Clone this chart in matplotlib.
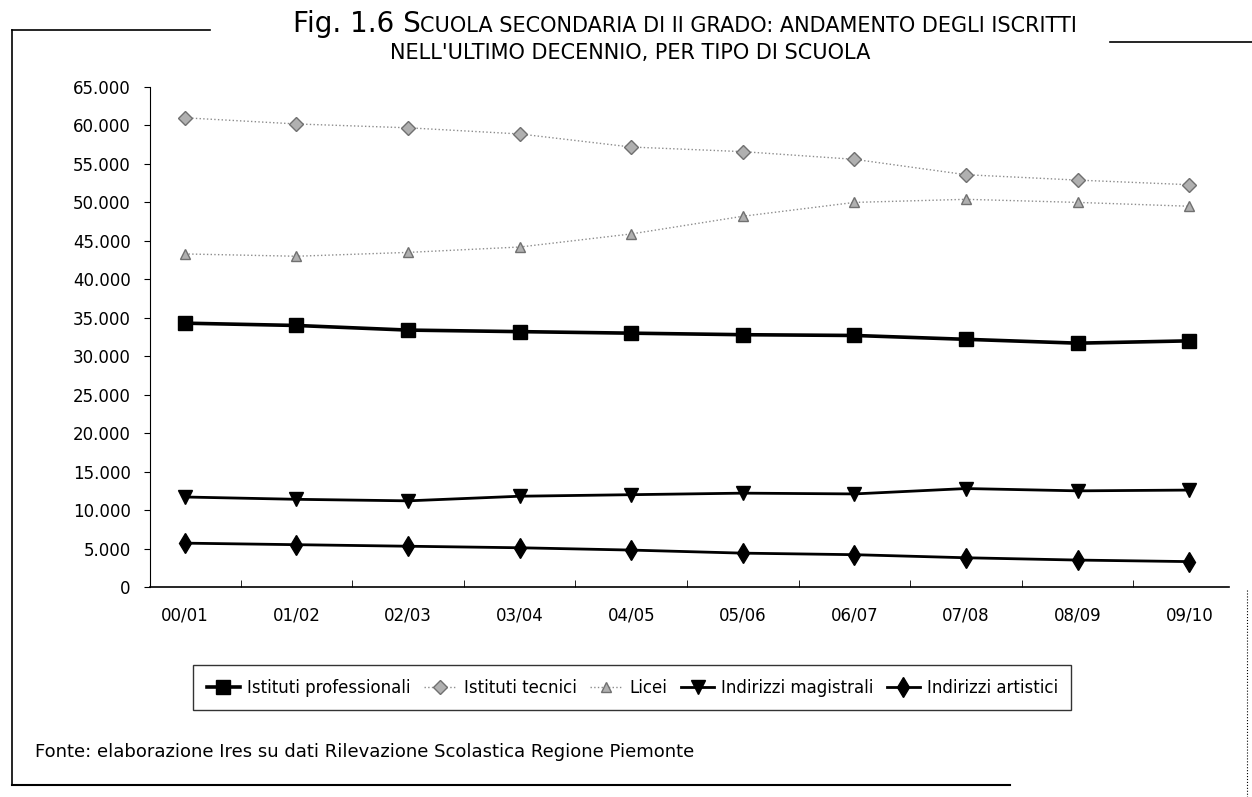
import numpy as np
import matplotlib
matplotlib.use("Agg")
import matplotlib.pyplot as plt
from matplotlib.lines import Line2D
from matplotlib.offsetbox import TextArea, HPacker, AnchoredOffsetbox
from matplotlib.ticker import FuncFormatter, MultipleLocator

plt.rcParams['font.family'] = ['Liberation Sans Narrow', 'DejaVu Sans Condensed', 'DejaVu Sans']

# data
anni = ["00/01", "01/02", "02/03", "03/04", "04/05", "05/06", "06/07", "07/08", "08/09", "09/10"]
professionali = [34300, 34000, 33400, 33200, 33000, 32800, 32700, 32200, 31700, 32000]
tecnici = [61000, 60200, 59700, 58900, 57200, 56600, 55600, 53600, 52900, 52300]
licei = [43300, 43000, 43500, 44200, 45900, 48200, 50000, 50400, 50000, 49500]
magistrali = [11700, 11400, 11200, 11800, 12000, 12200, 12100, 12800, 12500, 12600]
artistici = [5700, 5500, 5300, 5100, 4800, 4400, 4200, 3800, 3500, 3300]

fig = plt.figure(figsize=(12.52, 7.97), dpi=100)
ax = fig.add_axes([0.12, 0.2635, 0.862, 0.6273])

x = np.arange(len(anni))
ax.plot(x, professionali, color='black', lw=2.6, marker='s', ms=10,
        label='Istituti professionali')
ax.plot(x, tecnici, color='#8c8c8c', lw=1.0, ls=':', marker='D', ms=7,
        mfc='#b0b0b0', mec='#707070', label='Istituti tecnici')
ax.plot(x, licei, color='#8c8c8c', lw=1.0, ls=':', marker='^', ms=7,
        mfc='#b0b0b0', mec='#707070', label='Licei')
ax.plot(x, magistrali, color='black', lw=2.0, marker='v', ms=10,
        label='Indirizzi magistrali')
ax.plot(x, artistici, color='black', lw=2.0, marker='d', ms=10,
        label='Indirizzi artistici')

ax.set_xlim(-0.31, 9.36)
ax.set_ylim(0, 65000)
ax.yaxis.set_major_locator(MultipleLocator(5000))
ax.yaxis.set_major_formatter(FuncFormatter(lambda v, p: f"{int(v):,}".replace(",", ".")))
ax.set_xticks(x)
ax.set_xticklabels(anni)
ax.set_xticks(np.arange(0.5, 9.5, 1), minor=True)
ax.tick_params(axis='x', which='major', length=0, pad=14, labelsize=12)
ax.tick_params(axis='x', which='minor', length=5, direction='in')
ax.tick_params(axis='y', length=4, direction='out', labelsize=12, pad=10)
ax.spines['top'].set_visible(False)
ax.spines['right'].set_visible(False)
ax.spines['left'].set_linewidth(0.8)
ax.spines['bottom'].set_linewidth(1.2)

leg = fig.legend(loc='center', bbox_to_anchor=(0.505, 0.137), ncol=5, frameon=True,
                 fancybox=False, edgecolor='black', fontsize=12, handlelength=2.0,
                 handletextpad=0.4, columnspacing=0.8, borderpad=0.8)
leg.get_frame().set_linewidth(1.0)

# title in small caps, built from pieces
big, small = 20, 15
riga1 = HPacker(children=[TextArea("Fig. 1.6 S", textprops=dict(size=big)),
                          TextArea("CUOLA SECONDARIA DI II GRADO: ANDAMENTO DEGLI ISCRITTI",
                                   textprops=dict(size=small))],
                align='baseline', pad=0, sep=0)
riga2 = TextArea("NELL'ULTIMO DECENNIO, PER TIPO DI SCUOLA", textprops=dict(size=small))
fig.add_artist(AnchoredOffsetbox(loc='center', child=riga1, frameon=False,
                                 bbox_to_anchor=(0.547, 0.970), bbox_transform=fig.transFigure, pad=0))
fig.add_artist(AnchoredOffsetbox(loc='center', child=riga2, frameon=False,
                                 bbox_to_anchor=(0.503, 0.934), bbox_transform=fig.transFigure, pad=0))

fig.text(0.028, 0.056, "Fonte: elaborazione Ires su dati Rilevazione Scolastica Regione Piemonte",
         fontsize=13, va='center')

# cornice
W, H = 1252, 797
def seg(x0, y0, x1, y1, lw=1.2, ls='-'):
    fig.add_artist(Line2D([x0 / W, x1 / W], [1 - y0 / H, 1 - y1 / H], color='black',
                          lw=lw, ls=ls, transform=fig.transFigure))

seg(12, 30, 210, 30)
seg(12, 30, 12, 785)
seg(12, 785, 1010, 785, lw=1.5)
seg(1110, 42, 1252, 42)
seg(1247, 590, 1247, 797, lw=0.8, ls=':')

fig.savefig("out.png", dpi=100)
